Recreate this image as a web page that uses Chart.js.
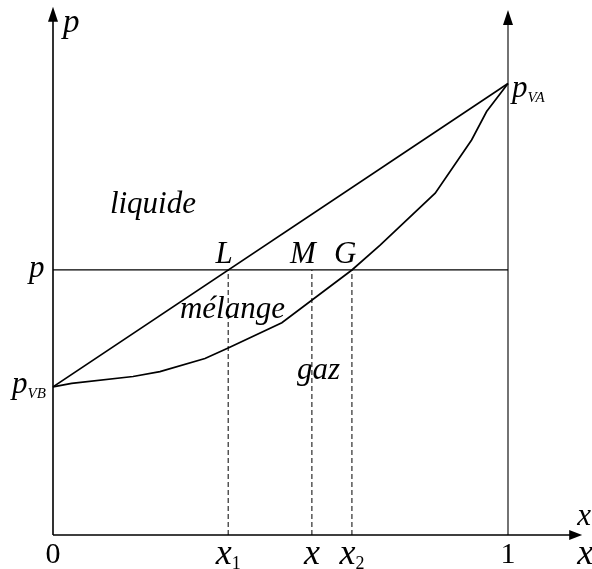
<!DOCTYPE html>
<html>
<head>
<meta charset="utf-8">
<script src="https://cdn.jsdelivr.net/npm/chart.js@4/dist/chart.umd.min.js"></script>
<style>
  html, body { margin: 0; padding: 0; background: #fff; }
  #wrap { width: 592px; height: 569px; }
</style>
</head>
<body>
<div id="wrap"><canvas id="c" width="592" height="569"></canvas></div>
<script>
// Isothermal liquid/vapour diagram of an ideal binary mixture A–B (x = mole fraction of A)
const liquidX = [0, 1];
const liquidP = [0.328, 1.0];

const vaporX = [0, 0.041, 0.176, 0.235, 0.334, 0.385, 0.503, 0.657, 0.719, 0.840, 0.920, 0.953, 1];
const vaporP = [0.328, 0.336, 0.351, 0.362, 0.391, 0.414, 0.470, 0.587, 0.642, 0.757, 0.875, 0.938, 1.0];

// working pressure p and the compositions read on the tie line
const pressure = 0.587;
const markX = [0.385, 0.569, 0.657];
const markName = ['x', 'x', 'x'];
const markSub = ['1', '', '2'];

// tie-line points L, M, G
const pointNames = ['L', 'M', 'G'];
const pointX = [0.376, 0.549, 0.642];

// end tick labels of the composition axis
const endTicks = [0, 1];
const endLabels = ['0', '1'];

// region names
const regionNames = ['liquide', 'mélange', 'gaz'];
const regionX = [0.125, 0.279, 0.536];
const regionP = [0.713, 0.481, 0.3455];

const axisTop = 1.17;
const rightAxisTop = 1.163;
const xAxisEnd = 1.163;

const SERIF = '"Liberation Serif", "Times New Roman", Times, serif';
const INK = '#000';

function toPts(xs, ys) { return xs.map((x, i) => ({ x: x, y: ys[i] })); }

const datasets = [
  { data: toPts(liquidX, liquidP), borderColor: INK, borderWidth: 1.7 },
  { data: toPts(vaporX, vaporP), borderColor: INK, borderWidth: 1.7 },
  { data: toPts([0, 1], [pressure, pressure]), borderColor: INK, borderWidth: 1.3 }
];
markX.forEach(function (mx) {
  datasets.push({ data: toPts([mx, mx], [0, pressure]), borderColor: INK, borderWidth: 1, borderDash: [5, 3] });
});
datasets.forEach(function (d) {
  d.showLine = true; d.pointRadius = 0; d.tension = 0; d.fill = false; d.clip = false;
});

function subText(ctx, main, sub, x, y, size, subSize, align, subUpright, subDrop) {
  ctx.font = 'italic ' + size + 'px ' + SERIF;
  const wMain = ctx.measureText(main).width;
  const subFont = (subUpright ? '' : 'italic ') + subSize + 'px ' + SERIF;
  ctx.font = subFont;
  const wSub = sub ? ctx.measureText(sub).width : 0;
  let left = x;
  if (align === 'center') left = x - (wMain + wSub) / 2;
  ctx.textAlign = 'left';
  ctx.textBaseline = 'alphabetic';
  ctx.font = 'italic ' + size + 'px ' + SERIF;
  ctx.fillText(main, left, y);
  if (sub) {
    ctx.font = subFont;
    ctx.fillText(sub, left + wMain, y + (subDrop !== undefined ? subDrop : subSize * 0.35));
  }
}

function arrowHead(ctx, x, y, dir) {
  ctx.beginPath();
  if (dir === 'up') {
    ctx.moveTo(x, y); ctx.lineTo(x - 5, y + 15); ctx.lineTo(x + 5, y + 15);
  } else {
    ctx.moveTo(x, y); ctx.lineTo(x - 13, y - 5); ctx.lineTo(x - 13, y + 5);
  }
  ctx.closePath();
  ctx.fill();
}

const diagramDecor = {
  id: 'diagramDecor',
  afterDatasetsDraw(chart) {
    const ctx = chart.ctx;
    const xs = chart.scales.x, ys = chart.scales.y;
    const X = v => xs.getPixelForValue(v);
    const Y = v => ys.getPixelForValue(v);
    ctx.save();
    ctx.strokeStyle = INK; ctx.fillStyle = INK;

    // axes
    ctx.lineWidth = 1.6;
    ctx.beginPath();
    ctx.moveTo(X(0), Y(0)); ctx.lineTo(X(0), Y(axisTop) + 10);
    ctx.moveTo(X(0), Y(0)); ctx.lineTo(X(xAxisEnd) - 8, Y(0));
    ctx.stroke();
    ctx.lineWidth = 1.1;
    ctx.beginPath();
    ctx.moveTo(X(1), Y(0)); ctx.lineTo(X(1), Y(rightAxisTop) + 10);
    ctx.stroke();
    arrowHead(ctx, X(0), Y(axisTop), 'up');
    arrowHead(ctx, X(1), Y(rightAxisTop), 'up');
    arrowHead(ctx, X(xAxisEnd), Y(0), 'right');

    const F = 31, FS = 15, FX = 36, FXS = 18;
    // axis titles
    subText(ctx, 'p', '', X(0) + 10, Y(axisTop) + 25, 33, FS, 'left');
    subText(ctx, 'x', '', X(xAxisEnd) - 5, Y(0) - 10, F, FS, 'left');
    subText(ctx, 'x', 'A', X(xAxisEnd) - 5, Y(0) + 29, FX, FXS, 'left', false, 5);

    // pure-component vapour pressures
    subText(ctx, 'p', 'VA', X(1) + 4, Y(liquidP[1]) + 13, F, FS, 'left');
    subText(ctx, 'p', 'VB', X(0) - 41, Y(liquidP[0]) + 6, F, FS, 'left');
    // working pressure
    subText(ctx, 'p', '', X(0) - 24, Y(pressure) + 7, F, FS, 'left');

    // composition axis labels
    ctx.font = '30px ' + SERIF;
    ctx.textAlign = 'center'; ctx.textBaseline = 'alphabetic';
    endTicks.forEach(function (t, i) { ctx.fillText(endLabels[i], X(t), Y(0) + 28); });
    markX.forEach(function (mx, i) {
      subText(ctx, markName[i], markSub[i], X(mx), Y(0) + 29, FX, FXS, 'center', true, 5);
    });

    // tie-line points
    pointNames.forEach(function (n, i) {
      subText(ctx, n, '', X(pointX[i]), Y(pressure) - 7, F, FS, 'center');
    });

    // region names
    regionNames.forEach(function (n, i) {
      subText(ctx, n, '', X(regionX[i]), Y(regionP[i]), F, FS, 'left');
    });
    ctx.restore();
  }
};

new Chart(document.getElementById('c'), {
  type: 'scatter',
  data: { datasets: datasets },
  options: {
    responsive: false,
    animation: false,
    devicePixelRatio: 1,
    layout: { padding: { left: 53, right: 84, top: 38.35, bottom: 34 } },
    scales: {
      x: { type: 'linear', min: 0, max: 1, display: false },
      y: { type: 'linear', min: 0, max: 1.1, display: false }
    },
    plugins: { legend: { display: false }, tooltip: { enabled: false } }
  },
  plugins: [diagramDecor]
});
</script>
</body>
</html>
